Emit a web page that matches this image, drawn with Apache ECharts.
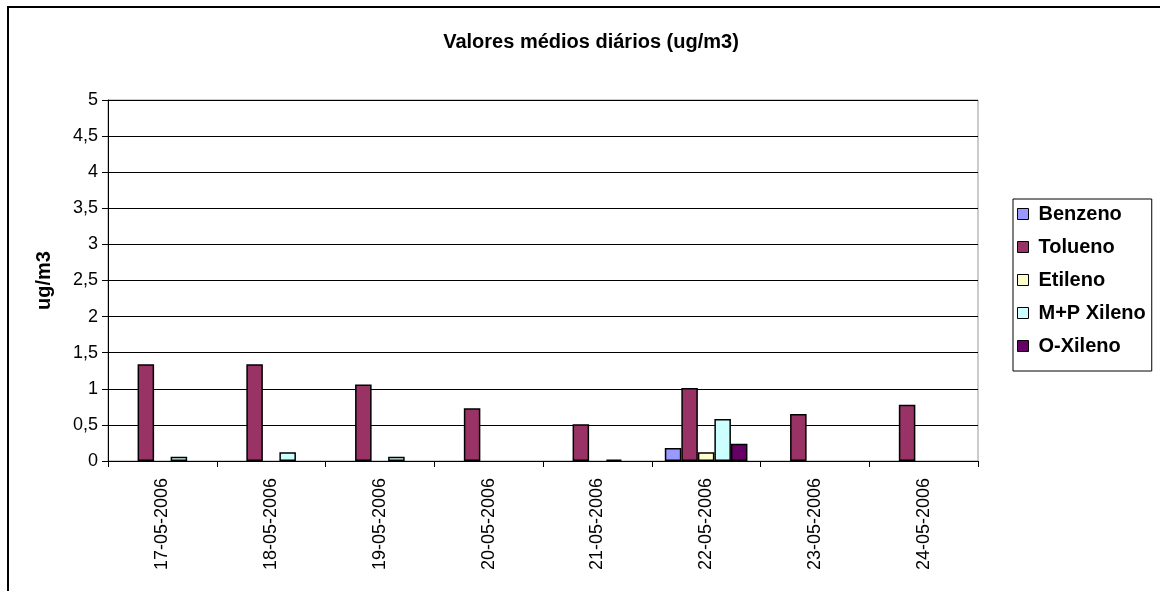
<!DOCTYPE html>
<html>
<head>
    <meta charset="utf-8">
    <title>Valores médios diários</title>
    <style>
        html, body { margin: 0; padding: 0; background: #fff; }
    </style>
</head>
<body>
<div id="main" style="width: 1160px;height:591px;"></div>

<script src="https://cdn.jsdelivr.net/npm/echarts@6/dist/echarts.min.js"></script>
<script>
    // dados (null = sem barra visível)
    var dias = ['17-05-2006', '18-05-2006', '19-05-2006', '20-05-2006',
                '21-05-2006', '22-05-2006', '23-05-2006', '24-05-2006'];
    var benzeno   = [null, null, null, null, null, 0.18, null, null];
    var tolueno   = [1.34, 1.34, 1.06, 0.73, 0.51, 1.01, 0.65, 0.78];
    var etileno   = [null, null, null, null, null, 0.12, null, null];
    var mpXileno  = [0.06, 0.12, 0.06, null, 0.02, 0.58, null, null];
    var oXileno   = [null, null, null, null, null, 0.24, null, null];
    var nomes = ['Benzeno', 'Tolueno', 'Etileno', 'M+P Xileno', 'O-Xileno'];
    var cores = ['#9999FF', '#993366', '#FFFFCC', '#CCFFFF', '#660066'];
    var valores = [benzeno, tolueno, etileno, mpXileno, oXileno];

    var fonte = 'Liberation Sans, Arial, sans-serif';

    var myChart = echarts.init(document.getElementById('main'));

    var series = nomes.map(function (n, i) {
        return {
            name: n,
            type: 'bar',
            data: valores[i],
            barGap: '0%',
            barCategoryGap: '24%',
            itemStyle: { color: cores[i], borderColor: '#000', borderWidth: 1.5 }
        };
    });

    myChart.setOption({
        animation: false,
        title: {
            text: 'Valores médios diários (ug/m3)',
            left: 586, top: 27, textAlign: 'center',
            textStyle: { fontFamily: fonte, fontSize: 20, fontWeight: 'bold', color: '#000' }
        },
        legend: {
            orient: 'vertical',
            left: 1013, top: 199,
            padding: [5, 6, 15, 4],
            borderColor: '#000', borderWidth: 1,
            itemWidth: 11, itemHeight: 11, itemGap: 13,
            icon: 'rect',
            itemStyle: { borderColor: '#000', borderWidth: 1 },
            textStyle: { fontFamily: fonte, fontSize: 20, fontWeight: 'bold', color: '#000',
                         lineHeight: 20, padding: [0, 0, 0, 5] },
            data: nomes
        },
        grid: { left: 108, right: 182, top: 100, bottom: 130, containLabel: false,
                show: true, borderColor: '#999', borderWidth: 1 },
        xAxis: {
            type: 'category',
            data: dias,
            axisLine: { lineStyle: { color: '#000', width: 1 } },
            axisTick: { show: true, length: 6, lineStyle: { color: '#000' } },
            axisLabel: { rotate: 90, margin: 17, fontFamily: fonte, fontSize: 18, color: '#000' }
        },
        yAxis: {
            type: 'value',
            min: 0, max: 5, interval: 0.5,
            name: 'ug/m3',
            nameLocation: 'middle',
            nameGap: 54,
            nameTextStyle: { fontFamily: fonte, fontSize: 20, fontWeight: 'bold', color: '#000' },
            axisLine: { show: true, lineStyle: { color: '#000' } },
            axisTick: { show: true, length: 6, lineStyle: { color: '#000' } },
            splitLine: { lineStyle: { color: '#000', width: 1 } },
            axisLabel: {
                margin: 10, fontFamily: fonte, fontSize: 18, color: '#000',
                formatter: function (v) { return String(v).replace('.', ','); }
            }
        },
        graphic: [{
            type: 'rect',
            shape: { x: 8, y: 7, width: 1200, height: 650 },
            style: { fill: 'none', stroke: '#000', lineWidth: 2 },
            silent: true
        }],
        series: series
    });
</script>
</body>
</html>
